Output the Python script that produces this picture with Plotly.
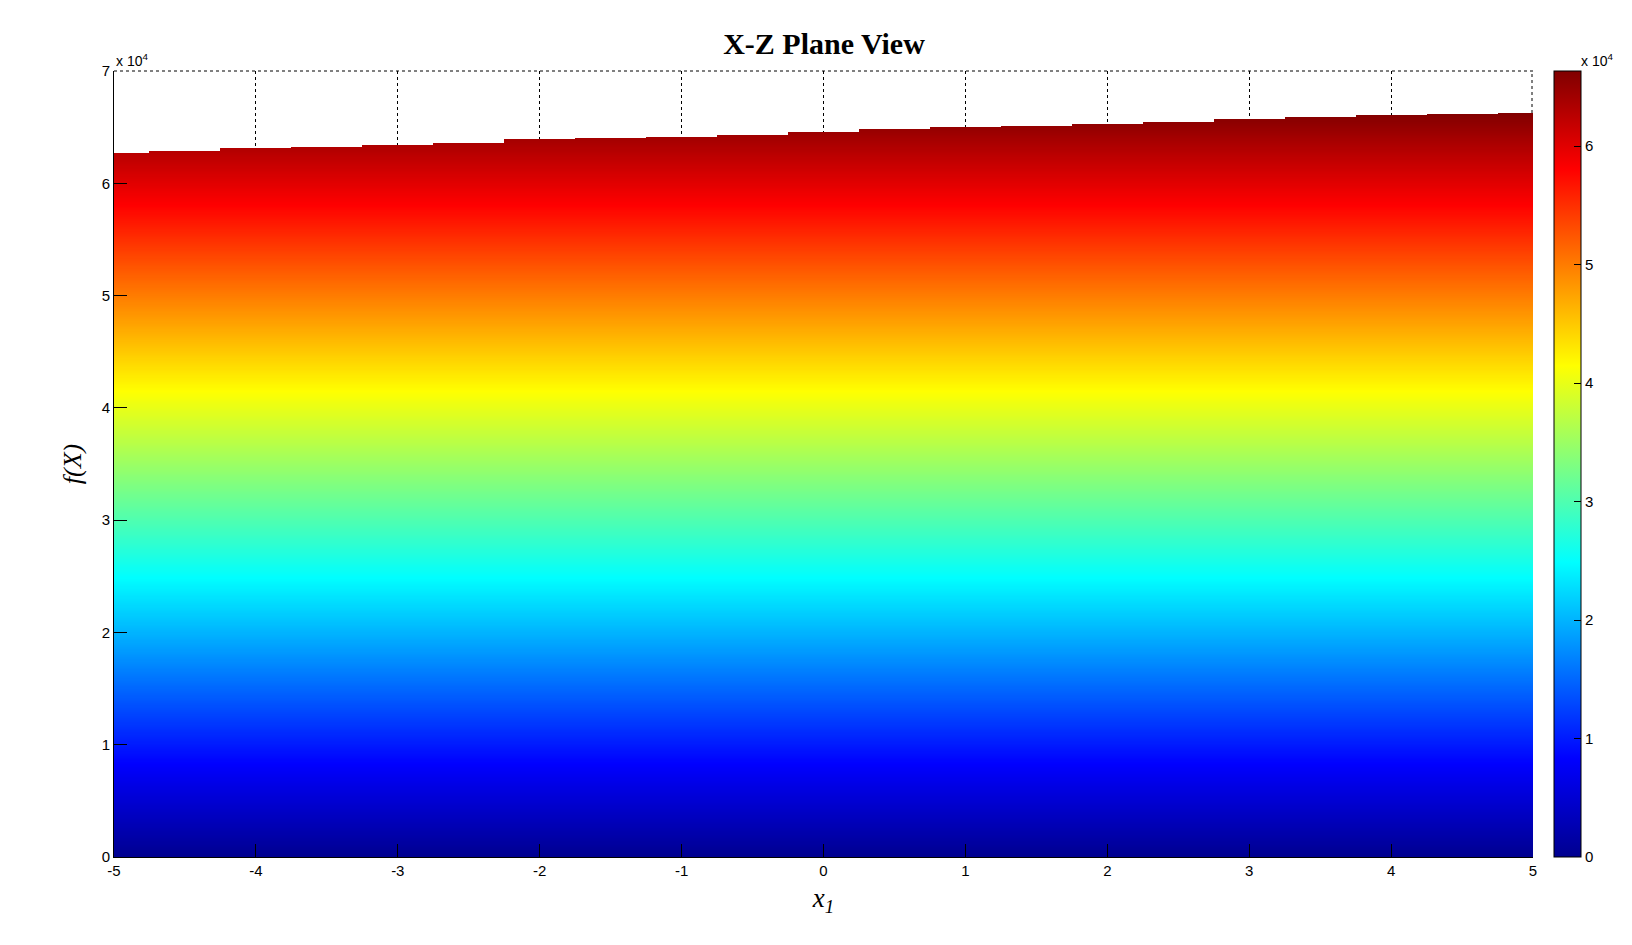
import numpy as np
import plotly.graph_objects as go

# x positions and the upper edge of the surface, f(X) seen from the X-Z plane
x_vals = [-5, -4.5, -4, -3.5, -3, -2.5, -2, -1.5, -1, -0.5, 0,
          0.5, 1, 1.5, 2, 2.5, 3, 3.5, 4, 4.5, 5]
top_vals = [62690, 62870, 63050, 63220, 63400, 63620, 63850, 63980, 64110, 64340, 64560,
            64780, 65000, 65140, 65270, 65500, 65720, 65900, 66070, 66200, 66340]

x_ticks = [-5, -4, -3, -2, -1, 0, 1, 2, 3, 4, 5]
x_ticklabels = ["-5", "-4", "-3", "-2", "-1", "0", "1", "2", "3", "4", "5"]
y_ticks = [0, 10000, 20000, 30000, 40000, 50000, 60000, 70000]
y_ticklabels = ["0", "1", "2", "3", "4", "5", "6", "7"]
cb_ticks = [0, 10000, 20000, 30000, 40000, 50000, 60000]
cb_ticklabels = ["0", "1", "2", "3", "4", "5", "6"]

# the surface is coloured by its own height, so each level row carries its z value
levels = np.arange(50, 70000, 100)
top = np.array(top_vals)
z = np.where(levels[:, None] <= top[None, :], levels[:, None], np.nan)

jet = [
    [0.0, "rgb(0,0,143)"],
    [0.125, "rgb(0,0,255)"],
    [0.375, "rgb(0,255,255)"],
    [0.625, "rgb(255,255,0)"],
    [0.875, "rgb(255,0,0)"],
    [1.0, "rgb(128,0,0)"],
]

tick_font = dict(family="Liberation Sans", size=15, color="black")

fig = go.Figure()
fig.add_trace(go.Heatmap(
    x=x_vals, y=levels, z=z,
    colorscale=jet, zmin=0, zmax=max(top_vals),
    hoverongaps=False,
    colorbar=dict(
        thickness=27, thicknessmode="pixels",
        len=1, lenmode="fraction", y=0, yanchor="bottom", ypad=0,
        x=1.0148, xanchor="left", xpad=0,
        outlinecolor="black", outlinewidth=1,
        tickvals=cb_ticks, ticktext=cb_ticklabels,
        ticks="inside", ticklen=7, tickcolor="black",
        tickfont=tick_font,
    ),
))

fig.update_layout(
    width=1632, height=945,
    margin=dict(l=106, r=107, t=63, b=96),
    plot_bgcolor="white", paper_bgcolor="white",
    title=dict(text="<b>X-Z Plane View</b>", x=0.5, xanchor="center",
               y=0.962, yanchor="middle",
               font=dict(family="Liberation Serif", size=30, color="black")),
    xaxis=dict(
        range=[-5, 5], tickvals=x_ticks, ticktext=x_ticklabels,
        showgrid=True, gridcolor="black", griddash="dot", gridwidth=1,
        zeroline=False, showline=True, linecolor="black", linewidth=1,
        ticks="inside", ticklen=13, tickcolor="black",
        tickfont=tick_font,
        title=dict(text="<i>x<sub>1</sub></i>", standoff=10,
                   font=dict(family="Liberation Serif", size=27, color="black")),
    ),
    yaxis=dict(
        range=[0, 70000], tickvals=y_ticks, ticktext=y_ticklabels,
        showgrid=True, gridcolor="black", griddash="dot", gridwidth=1,
        zeroline=False, showline=True, linecolor="black", linewidth=1,
        ticks="inside", ticklen=13, tickcolor="black",
        tickfont=tick_font,
        title=dict(text="<i>f(X)</i>", standoff=12,
                   font=dict(family="Liberation Serif", size=26, color="black")),
    ),
    shapes=[
        # grid lines at the far edges (top y=7 and right x=5)
        dict(type="line", xref="paper", yref="paper", x0=0, x1=1, y0=1, y1=1,
             line=dict(color="black", width=1, dash="dot"), layer="below"),
        dict(type="line", xref="paper", yref="paper", x0=0.9993, x1=0.9993, y0=0, y1=1,
             line=dict(color="black", width=1, dash="dot"), layer="below"),
    ],
    annotations=[
        dict(text="x 10<sup>4</sup>", xref="paper", yref="paper", x=0.0, y=1.0,
             xanchor="left", yanchor="bottom", showarrow=False,
             font=dict(family="Liberation Sans", size=14, color="black")),
        dict(text="x 10<sup>4</sup>", xref="paper", yref="paper", x=1.0324, y=1.0,
             xanchor="left", yanchor="bottom", showarrow=False,
             font=dict(family="Liberation Sans", size=14, color="black")),
    ],
)

fig.write_html("out.html")
